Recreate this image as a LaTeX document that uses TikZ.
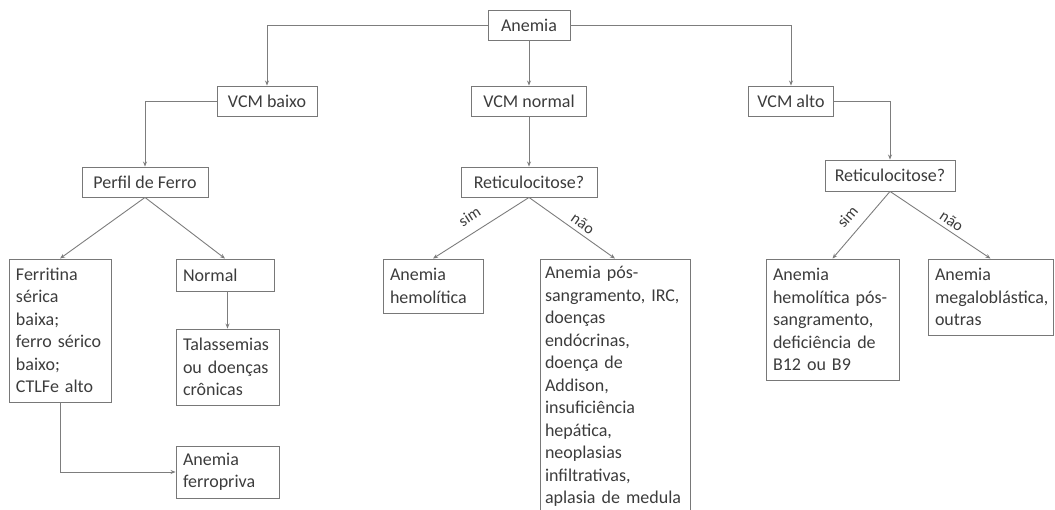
\documentclass[tikz,border=0pt]{standalone}
\usepackage{fontspec}
\setmainfont{Carlito}
\usetikzlibrary{arrows.meta}
\definecolor{boxgray}{RGB}{120,120,120}
\definecolor{linegray}{RGB}{125,125,125}
\definecolor{txtgray}{RGB}{60,60,60}
\begin{document}
\begin{tikzpicture}[x=1pt,y=-1pt,
  box/.style={draw=boxgray, line width=0.9pt, text=txtgray,
    font=\fontsize{18}{22.5}\selectfont, inner xsep=7pt, inner ysep=2pt},
  mbox/.style={box, align=left},
  conn/.style={draw=linegray, line width=0.9pt, -{Stealth[length=5pt,width=4pt]}},
  lbl/.style={text=txtgray, font=\fontsize{16}{18}\selectfont, inner sep=0pt}]
\useasboundingbox (0,0) rectangle (1055,510);

% top level
\node[box, minimum width=82pt, minimum height=30pt] (anemia) at (529,25) {Anemia};
\node[box, minimum width=100pt, minimum height=30pt] (vcmb) at (267,101) {VCM baixo};
\node[box, minimum width=115pt, minimum height=30pt] (vcmn) at (529,101) {VCM normal};
\node[box, minimum width=85pt, minimum height=30pt] (vcma) at (791,101) {VCM alto};

% second level
\node[box, minimum width=126pt, minimum height=30pt] (perfil) at (145,182) {Perfil de Ferro};
\node[box, minimum width=136pt, minimum height=30pt] (retm) at (529,182) {Reticulocitose?};
\node[box, minimum width=130pt, minimum height=31pt] (reta) at (890,175.5) {Reticulocitose?};

% leaves, microcytic branch
\node[mbox, text width=88pt, minimum height=143pt] (ferr) at (60,330.5)
  {Ferritina\\sérica\\baixa;\\ferro sérico\\baixo;\\CTLFe alto};
\node[mbox, text width=84pt, minimum height=32pt] (normal) at (225,275) {Normal};
\node[mbox, text width=89pt, minimum height=76pt] (tal) at (227.5,367)
  {Talassemias\\ou doenças\\crônicas};
\node[mbox, text width=89pt, minimum height=52pt] (ferro) at (227.5,472)
  {Anemia\\ferropriva};

% leaves, normocytic branch
\node[mbox, text width=86pt, minimum height=54pt] (hemo) at (433,286)
  {Anemia\\hemolítica};
\node[mbox, inner xsep=5pt, text width=140pt, minimum height=255pt] (outras) at (615,386.5)
  {Anemia pós-\\sangramento, IRC,\\doenças\\endócrinas,\\doença de\\Addison,\\insuficiência\\hepática,\\neoplasias\\infiltrativas,\\\mbox{aplasia de medula}};

% leaves, macrocytic branch
\node[mbox, text width=119pt, minimum height=121pt] (hemo2) at (832.5,319.5)
  {Anemia\\hemolítica pós-\\sangramento,\\deficiência de\\B12 ou B9};
\node[mbox, text width=111pt, minimum height=76pt] (mega) at (990.5,297)
  {Anemia\\megaloblástica,\\outras};

% connectors
\draw[conn] (anemia.west) -| (vcmb.north);
\draw[conn] (anemia.south) -- (vcmn.north);
\draw[conn] (anemia.east) -| (vcma.north);
\draw[conn] (vcmb.west) -| (perfil.north);
\draw[conn] (vcmn.south) -- (retm.north);
\draw[conn] (vcma.east) -| (reta.north);

\draw[conn] (perfil.south) -- (ferr.north);
\draw[conn] (perfil.south) -- (normal.north);
\draw[conn] (tal.north |- normal.south) -- (tal.north);
\draw[conn] (ferr.south) |- (ferro.west);

\draw[conn] (retm.south) -- node[lbl, pos=0.53, above=10pt, sloped] {sim} (hemo.north);
\draw[conn] (retm.south) -- node[lbl, pos=0.56, above=4pt, sloped] {não} (outras.north);
\draw[conn] (reta.south) -- node[lbl, pos=0.53, above=10pt, sloped] {sim} (hemo2.north);
\draw[conn] (reta.south) -- node[lbl, pos=0.56, above=4pt, sloped] {não} (mega.north);
\end{tikzpicture}
\end{document}
